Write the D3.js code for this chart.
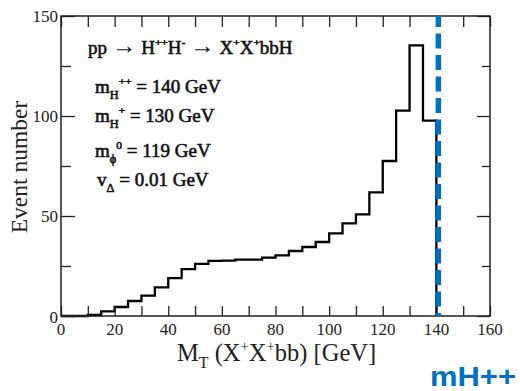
<!DOCTYPE html>
<html>
<head>
<meta charset="utf-8">
<script src="https://cdn.jsdelivr.net/npm/d3@7"></script>
<style>
  body { margin: 0; background: #fff; }
  svg { display: block; }
</style>
</head>
<body>
<svg id="chart" width="520" height="391"></svg>
<script>
// histogram of M_T, 5 GeV bins starting at 0
const binWidth = 5;
const binStart = 0;
const eventCounts = [0, 0, 0.5, 2.3, 4.5, 7.5, 10.2, 14.3, 18.9, 23.4, 26.1, 27.6, 27.7, 28.2,
    28.2, 29.2, 30.3, 32.5, 34.5, 37, 41.3, 46.3, 50.8, 61.8, 77.5, 102.7, 135.3, 97.7];
const xTicks = [0, 20, 40, 60, 80, 100, 120, 140, 160];
const yTicks = [0, 50, 100, 150];
const mHpp = 140;

const svg = d3.select('#chart');
const plotLeft = 61, plotRight = 490, plotTop = 16, plotBottom = 316;
const serif = "'Liberation Serif', 'Times New Roman', serif";

const xScale = d3.scaleLinear().domain([0, 160]).range([plotLeft, plotRight]);
const yScale = d3.scaleLinear().domain([0, 150]).range([plotBottom, plotTop]);

//build the step points of the histogram
let steps = [];
eventCounts.forEach((v, i) => {
    const x0 = binStart + i * binWidth;
    steps.push([x0, v]);
    steps.push([x0 + binWidth, v]);
});
steps.push([binStart + eventCounts.length * binWidth, 0]);

const line = d3.line()
    .x(d => xScale(d[0]))
    .y(d => yScale(d[1]));

svg.append('path')
    .datum(steps)
    .attr('fill', 'none')
    .attr('stroke', '#000')
    .attr('stroke-width', 2.3)
    .attr('d', line);

//frame with inward ticks
const axisColor = '#222';
function styleAxis(g) {
    g.select('.domain').remove();
    g.selectAll('line').attr('stroke', axisColor).attr('stroke-width', 1.3);
}
const minorX = d3.range(0, 161, 10);
svg.append('g').attr('transform', `translate(0,${plotBottom})`)
    .call(d3.axisTop(xScale).tickValues(minorX).tickSize(10).tickFormat(''))
    .call(styleAxis);
svg.append('g').attr('transform', `translate(0,${plotTop})`)
    .call(d3.axisBottom(xScale).tickValues(minorX).tickSize(11).tickFormat(''))
    .call(styleAxis);
const minorY = [25, 75, 125];
svg.append('g').attr('transform', `translate(${plotLeft},0)`)
    .call(d3.axisRight(yScale).tickValues(yTicks).tickSize(14).tickFormat(''))
    .call(styleAxis);
svg.append('g').attr('transform', `translate(${plotLeft},0)`)
    .call(d3.axisRight(yScale).tickValues(minorY).tickSize(10).tickFormat(''))
    .call(styleAxis);
svg.append('g').attr('transform', `translate(${plotRight},0)`)
    .call(d3.axisLeft(yScale).tickValues(yTicks).tickSize(13).tickFormat(''))
    .call(styleAxis);
svg.append('g').attr('transform', `translate(${plotRight},0)`)
    .call(d3.axisLeft(yScale).tickValues(minorY).tickSize(8).tickFormat(''))
    .call(styleAxis);

svg.append('rect')
    .attr('x', plotLeft).attr('y', plotTop)
    .attr('width', plotRight - plotLeft).attr('height', plotBottom - plotTop)
    .attr('fill', 'none')
    .attr('stroke', axisColor)
    .attr('stroke-width', 1.5);

//tick labels
svg.selectAll('.xlab')
    .data(xTicks)
    .enter()
    .append('text')
    .attr('x', d => xScale(d))
    .attr('y', 335)
    .attr('text-anchor', 'middle')
    .attr('font-family', serif)
    .attr('font-size', '17px')
    .attr('fill', '#222')
    .text(d => d);

svg.selectAll('.ylab')
    .data(yTicks)
    .enter()
    .append('text')
    .attr('x', 58)
    .attr('y', d => yScale(d) + (d == 0 ? 7 : 6))
    .attr('text-anchor', 'end')
    .attr('font-family', serif)
    .attr('font-size', '17px')
    .attr('fill', '#222')
    .text(d => d);

//dashed line at mH++
svg.append('line')
    .attr('x1', xScale(mHpp) + 2)
    .attr('x2', xScale(mHpp) + 2)
    .attr('y1', plotTop)
    .attr('y2', plotBottom)
    .attr('stroke', '#0070c0')
    .attr('stroke-width', 5.5)
    .attr('stroke-dasharray', '15,6.5')
    .attr('stroke-dashoffset', 4);

//text with super / subscripts, heavy = faux bold with a thin stroke
function richText(x, y, parts, size, heavy) {
    const t = svg.append('text')
        .attr('x', x).attr('y', y)
        .attr('font-family', serif)
        .attr('font-size', size + 'px')
        .attr('fill', '#111');
    if (heavy) {
        t.attr('stroke', '#111').attr('stroke-width', 0.6);
    }
    let shift = 0;
    parts.forEach(p => {
        let target = 0;
        let fs = size;
        if (p.s == 'sup') { target = -size * 0.4; fs = size * 0.6; }
        if (p.s == 'sub') { target = size * 0.3; fs = size * 0.65; }
        if (p.s == 'big') { fs = size * 1.3; }
        t.append('tspan')
            .attr('dy', target - shift)
            .attr('font-size', fs + 'px')
            .attr('stroke-width', p.s == 'big' ? 0 : null)
            .text(p.t);
        shift = target;
    });
    return t;
}

richText(88, 54, [
    {t: 'pp '}, {t: '\u2192', s: 'big'}, {t: ' H'}, {t: '++', s: 'sup'}, {t: 'H'}, {t: '-', s: 'sup'},
    {t: ' '}, {t: '\u2192', s: 'big'}, {t: ' X'}, {t: '+', s: 'sup'}, {t: 'X'}, {t: '+', s: 'sup'}, {t: 'bbH'}
], 19, true);

richText(95, 93, [
    {t: 'm'}, {t: 'H', s: 'sub'}, {t: '++', s: 'sup'}, {t: ' = 140 GeV'}
], 19, true);
richText(95, 122, [
    {t: 'm'}, {t: 'H', s: 'sub'}, {t: '+', s: 'sup'}, {t: ' = 130 GeV'}
], 19, true);
richText(95, 157, [
    {t: 'm'}, {t: '\u03d5', s: 'sub'}, {t: '0', s: 'sup'}, {t: ' = 119 GeV'}
], 19, true);
richText(97, 186, [
    {t: 'v'}, {t: '\u0394', s: 'sub'}, {t: ' = 0.01 GeV'}
], 19, true);

//axis titles
richText(177, 361, [
    {t: 'M'}, {t: 'T', s: 'sub'}, {t: ' (X'}, {t: '+', s: 'sup'}, {t: 'X'}, {t: '+', s: 'sup'},
    {t: 'bb) [GeV]'}
], 24.5, false).attr('fill', '#222');

svg.append('text')
    .attr('transform', 'translate(27,167) rotate(-90)')
    .attr('text-anchor', 'middle')
    .attr('font-family', serif)
    .attr('font-size', '23.5px')
    .attr('fill', '#222')
    .text('Event number');

svg.append('text')
    .attr('x', 430)
    .attr('y', 385.5)
    .attr('textLength', 86)
    .attr('lengthAdjust', 'spacingAndGlyphs')
    .attr('font-family', "'Liberation Sans', Arial, sans-serif")
    .attr('font-weight', 'bold')
    .attr('font-size', '28px')
    .attr('fill', '#0070c0')
    .text('mH++');
</script>
</body>
</html>
